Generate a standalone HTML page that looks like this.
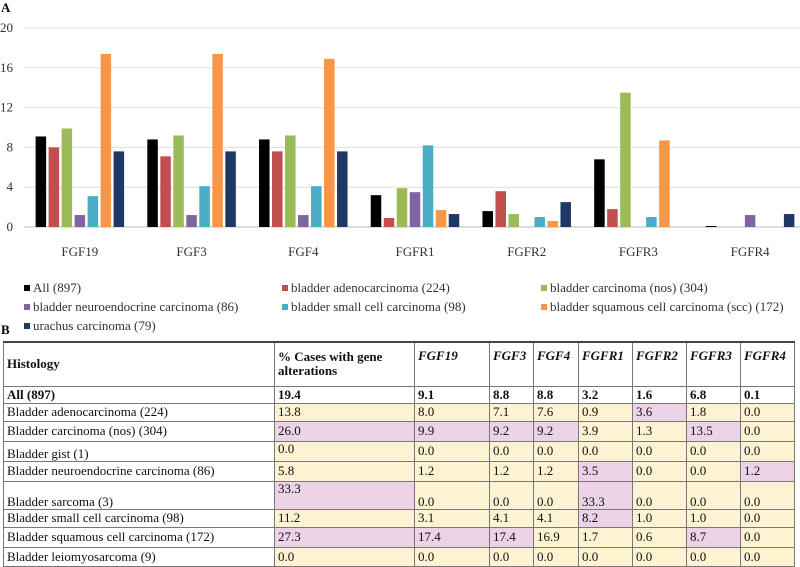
<!DOCTYPE html>
<html><head><meta charset="utf-8">
<style>
body{margin:0;background:#fff;width:800px;height:567px;overflow:hidden;position:relative;font-family:"Liberation Serif",serif;}
.lbl{position:absolute;font-weight:bold;font-size:13px;}
#chart{position:absolute;left:0;top:0;}
table{position:absolute;left:3px;top:341px;border-collapse:collapse;table-layout:fixed;font-size:13px;color:#111;}
td{border:1px solid #777;padding:0 3px;line-height:14px;vertical-align:middle;overflow:hidden;white-space:nowrap;box-sizing:border-box;}
tr.h td{font-weight:bold;border-top:2px solid #444;height:44px;white-space:normal;}
tr.h td.i{font-style:italic;vertical-align:top;padding-top:6px;}
tr.a td{font-weight:bold;}
td.Y{background:#fdf2d2;} td.P{background:#ecd3e8;}
</style></head><body>
<div class="lbl" style="left:1px;top:0px">A</div>
<svg id="chart" width="800" height="340"></svg>
<div class="lbl" style="left:1px;top:322px">B</div>
<table>
<colgroup><col style="width:271px"><col style="width:140px"><col style="width:75px"><col style="width:44px"><col style="width:45px"><col style="width:54px"><col style="width:54px"><col style="width:54px"><col style="width:54px"></colgroup>
<tr class="h"><td>Histology</td><td>% Cases with gene alterations</td><td class="i">FGF19</td><td class="i">FGF3</td><td class="i">FGF4</td><td class="i">FGFR1</td><td class="i">FGFR2</td><td class="i">FGFR3</td><td class="i">FGFR4</td></tr>
<tr class="a" style="height:17px"><td>All (897)</td><td>19.4</td><td>9.1</td><td>8.8</td><td>8.8</td><td>3.2</td><td>1.6</td><td>6.8</td><td>0.1</td></tr>
<tr style="height:18px"><td>Bladder adenocarcinoma (224)</td><td class="Y">13.8</td><td class="Y">8.0</td><td class="Y">7.1</td><td class="Y">7.6</td><td class="Y">0.9</td><td class="P">3.6</td><td class="Y">1.8</td><td class="Y">0.0</td></tr>
<tr style="height:20px"><td>Bladder carcinoma (nos) (304)</td><td class="P">26.0</td><td class="P">9.9</td><td class="P">9.2</td><td class="P">9.2</td><td class="Y">3.9</td><td class="Y">1.3</td><td class="P">13.5</td><td class="Y">0.0</td></tr>
<tr style="height:20px"><td style="vertical-align:bottom">Bladder gist (1)</td><td class="Y" style="vertical-align:top">0.0</td><td class="Y">0.0</td><td class="Y">0.0</td><td class="Y">0.0</td><td class="Y">0.0</td><td class="Y">0.0</td><td class="Y">0.0</td><td class="Y">0.0</td></tr>
<tr style="height:20px"><td>Bladder neuroendocrine carcinoma (86)</td><td class="Y">5.8</td><td class="Y">1.2</td><td class="Y">1.2</td><td class="Y">1.2</td><td class="P">3.5</td><td class="Y">0.0</td><td class="Y">0.0</td><td class="P">1.2</td></tr>
<tr style="height:28px"><td style="vertical-align:bottom">Bladder sarcoma (3)</td><td class="P" style="vertical-align:top">33.3</td><td class="Y" style="vertical-align:bottom">0.0</td><td class="Y" style="vertical-align:bottom">0.0</td><td class="Y" style="vertical-align:bottom">0.0</td><td class="P" style="vertical-align:bottom">33.3</td><td class="Y" style="vertical-align:bottom">0.0</td><td class="Y" style="vertical-align:bottom">0.0</td><td class="Y" style="vertical-align:bottom">0.0</td></tr>
<tr style="height:18px"><td>Bladder small cell carcinoma (98)</td><td class="Y">11.2</td><td class="Y">3.1</td><td class="Y">4.1</td><td class="Y">4.1</td><td class="P">8.2</td><td class="Y">1.0</td><td class="Y">1.0</td><td class="Y">0.0</td></tr>
<tr style="height:20px"><td>Bladder squamous cell carcinoma (172)</td><td class="P">27.3</td><td class="P">17.4</td><td class="P">17.4</td><td class="Y">16.9</td><td class="Y">1.7</td><td class="Y">0.6</td><td class="P">8.7</td><td class="Y">0.0</td></tr>
<tr style="height:19px"><td>Bladder leiomyosarcoma (9)</td><td class="Y">0.0</td><td class="Y">0.0</td><td class="Y">0.0</td><td class="Y">0.0</td><td class="Y">0.0</td><td class="Y">0.0</td><td class="Y">0.0</td><td class="Y">0.0</td></tr>
</table>
<script>
const categories=["FGF19","FGF3","FGF4","FGFR1","FGFR2","FGFR3","FGFR4"];
const seriesNames=["All (897)","bladder adenocarcinoma (224)","bladder carcinoma (nos) (304)","bladder neuroendocrine carcinoma (86)","bladder small cell carcinoma (98)","bladder squamous cell carcinoma (scc) (172)","urachus carcinoma (79)"];
const seriesColors=["#000000","#c0504d","#9bbb59","#8064a2","#4bacc6","#f79646","#1f3864"];
const sAll=[9.1,8.8,8.8,3.2,1.6,6.8,0.1];
const sAdeno=[8.0,7.1,7.6,0.9,3.6,1.8,0];
const sNos=[9.9,9.2,9.2,3.9,1.3,13.5,0];
const sNeuro=[1.2,1.2,1.2,3.5,0,0,1.2];
const sSmall=[3.1,4.1,4.1,8.2,1.0,1.0,0];
const sSquam=[17.4,17.4,16.9,1.7,0.6,8.7,0];
const sUrachus=[7.6,7.6,7.6,1.3,2.5,0,1.3];
const yTicks=[0,4,8,12,16,20];
const series=[sAll,sAdeno,sNos,sNeuro,sSmall,sSquam,sUrachus];
const svg=document.getElementById('chart');
const NS='http://www.w3.org/2000/svg';
const x0=24,x1=806,y0=227,yTop=28,yMax=20;
const bw=(x1-x0)/categories.length;
const y=v=>y0-(v/yMax)*(y0-yTop);
const cx=i=>x0+bw*(i+0.5);
function mk(t,a){const e=document.createElementNS(NS,t);for(const k in a)e.setAttribute(k,a[k]);svg.appendChild(e);return e;}
yTicks.forEach(t=>{
 const g=mk('line',{x1:x0,x2:x1,y1:y(t),y2:y(t),stroke:t===0?'#bbb':'#dedede','stroke-width':1});
 
 
 const l=mk('text',{x:13,y:y(t)+4,'text-anchor':'end','font-size':13,'font-family':'Liberation Serif, serif',fill:'#333'});
 l.textContent=t;
 
 
});
const barW=10.5,step=13;
categories.forEach((c,i)=>{
 series.forEach((s,j)=>{
  const v=s[i];
  const bx=cx(i)-(series.length*step)/2+j*step+(step-barW)/2;
  const r=mk('rect',{x:bx,y:y(v),width:barW,height:Math.max(0,y0-y(v)),fill:seriesColors[j]});
  
  
 });
 const t=mk('text',{x:cx(i),y:256,'text-anchor':'middle','font-size':13,'font-family':'Liberation Serif, serif',fill:'#333'});
 t.textContent=c;
 
 
});
const legX=[24,282,541];
seriesNames.forEach((n,j)=>{
 const lx=legX[j%3],ly=292+Math.floor(j/3)*19;
 const g=document.createElementNS(NS,'g');
 svg.appendChild(g);
 
 
 const r=document.createElementNS(NS,'rect');
 r.setAttribute('x',lx);r.setAttribute('y',ly-7);r.setAttribute('width',6);r.setAttribute('height',6);r.setAttribute('fill',seriesColors[j]);
 g.appendChild(r);
 const t=document.createElementNS(NS,'text');
 t.setAttribute('x',lx+9);t.setAttribute('y',ly);t.setAttribute('font-size',13);t.setAttribute('font-family','Liberation Serif, serif');t.setAttribute('fill','#333');
 t.textContent=n;
 g.appendChild(t);
});
</script>
</body></html>
